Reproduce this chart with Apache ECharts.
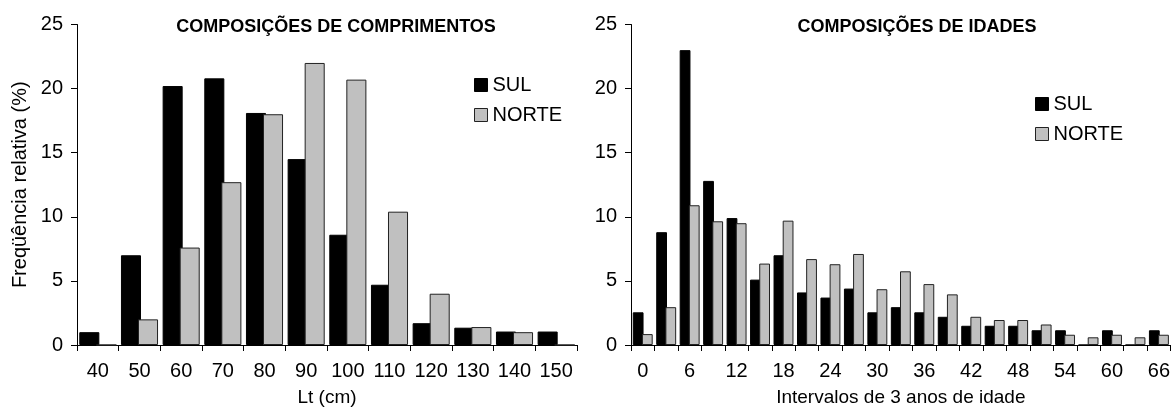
<!DOCTYPE html>
<html>
<head>
<meta charset="utf-8">
<script src="https://cdn.jsdelivr.net/npm/echarts@6/dist/echarts.min.js"></script>
<style>
  html, body { margin: 0; padding: 0; background: #fff; }
  #chart { width: 1173px; height: 412px; }
</style>
</head>
<body>
<div id="chart"></div>
<script>
// Length classes (Lt, cm) and relative frequencies (%)
const lengthClasses = ['40', '50', '60', '70', '80', '90', '100', '110', '120', '130', '140', '150'];
const lengthSul   = [1.0, 7.0, 20.2, 20.8, 18.1, 14.5, 8.6, 4.7, 1.7, 1.35, 1.05, 1.05];
const lengthNorte = [0, 2.0, 7.6, 12.7, 18.0, 22.0, 20.7, 10.4, 4.0, 1.4, 1.0, 0];

// Age classes (3-year intervals) and relative frequencies (%)
const ageClasses = ['0', '3', '6', '9', '12', '15', '18', '21', '24', '27', '30', '33',
                    '36', '39', '42', '45', '48', '51', '54', '57', '60', '63', '66'];
const ageSul   = [2.55, 8.8, 23.0, 12.8, 9.9, 5.1, 7.0, 4.1, 3.7, 4.4, 2.55, 2.95,
                  2.55, 2.2, 1.5, 1.5, 1.5, 1.15, 1.15, 0, 1.15, 0, 1.15];
const ageNorte = [0.85, 2.95, 10.9, 9.65, 9.5, 6.35, 9.7, 6.7, 6.3, 7.1, 4.35, 5.75,
                  4.75, 3.95, 2.2, 1.95, 1.95, 1.6, 0.8, 0.6, 0.8, 0.6, 0.8];

const yTicks = { min: 0, max: 25, interval: 5 };

const FONT = 'Liberation Sans, Arial, sans-serif';
const SUL_COLOR = '#000000';
const NORTE_COLOR = '#C0C0C0';

const chart = echarts.init(document.getElementById('chart'), null, { renderer: 'canvas' });

function yAxis(gridIndex, name) {
  return {
    type: 'value', gridIndex,
    min: yTicks.min, max: yTicks.max, interval: yTicks.interval,
    name: name || '',
    nameLocation: 'middle', nameGap: 47,
    nameTextStyle: { fontFamily: FONT, fontSize: 20, color: '#000' },
    splitLine: { show: false },
    axisLine: { show: true, lineStyle: { color: '#000', width: 1 } },
    axisTick: { show: true, inside: false, length: 6, lineStyle: { color: '#000' } },
    axisLabel: { margin: 14, fontFamily: FONT, fontSize: 20, color: '#000' }
  };
}

function xAxis(gridIndex, data, name, labelInterval) {
  return {
    type: 'category', gridIndex, data,
    name, nameLocation: 'middle', nameGap: 43,
    nameTextStyle: { fontFamily: FONT, fontSize: 19, color: '#000' },
    boundaryGap: true,
    axisLine: { show: true, lineStyle: { color: '#000', width: 1 } },
    axisTick: { show: true, interval: 0, length: 6, lineStyle: { color: '#000' } },
    axisLabel: { interval: labelInterval, margin: 16, fontFamily: FONT, fontSize: 20, color: '#000' }
  };
}

function barSeries(name, x, y, data, color, border, catGap) {
  return {
    type: 'bar', name, xAxisIndex: x, yAxisIndex: y, data,
    barGap: '-15%', barCategoryGap: catGap,
    itemStyle: { color, borderColor: border, borderWidth: 1 },
    emphasis: { disabled: true },
    animation: false
  };
}

const legendBase = {
  orient: 'vertical',
  itemWidth: 13, itemHeight: 13, itemGap: 10,
  icon: 'rect',
  textStyle: { fontFamily: FONT, fontSize: 20, color: '#000', padding: [0, 0, 0, 0] },
  data: [
    { name: 'SUL', itemStyle: { color: SUL_COLOR, borderColor: '#000', borderWidth: 1 } },
    { name: 'NORTE', itemStyle: { color: NORTE_COLOR, borderColor: '#222', borderWidth: 1 } }
  ],
  selectedMode: false
};

chart.setOption({
  backgroundColor: '#fff',
  animation: false,
  title: [
    { text: 'COMPOSIÇÕES DE COMPRIMENTOS', left: 331, top: 13, textAlign: 'center',
      textStyle: { fontFamily: FONT, fontSize: 18, fontWeight: 'bold', color: '#000' } },
    { text: 'COMPOSIÇÕES DE IDADES', left: 912, top: 13, textAlign: 'center',
      textStyle: { fontFamily: FONT, fontSize: 18, fontWeight: 'bold', color: '#000' } }
  ],
  legend: [
    Object.assign({}, legendBase, { left: 469, top: 70 }),
    Object.assign({}, legendBase, { left: 1030, top: 89 })
  ],
  grid: [
    { left: 77, top: 24.5, width: 500, height: 326.5 },
    { left: 631, top: 24.5, width: 541, height: 326.5 }
  ],
  xAxis: [
    xAxis(0, lengthClasses, 'Lt (cm)', 0),
    xAxis(1, ageClasses, 'Intervalos de 3 anos de idade', 1)
  ],
  yAxis: [
    yAxis(0, 'Freqüência relativa (%)'),
    yAxis(1, '')
  ],
  series: [
    barSeries('SUL', 0, 0, lengthSul, SUL_COLOR, '#000', '11%'),
    barSeries('NORTE', 0, 0, lengthNorte, NORTE_COLOR, '#222', '11%'),
    barSeries('SUL', 1, 1, ageSul, SUL_COLOR, '#000', '15%'),
    barSeries('NORTE', 1, 1, ageNorte, NORTE_COLOR, '#222', '15%')
  ]
});
</script>
</body>
</html>
